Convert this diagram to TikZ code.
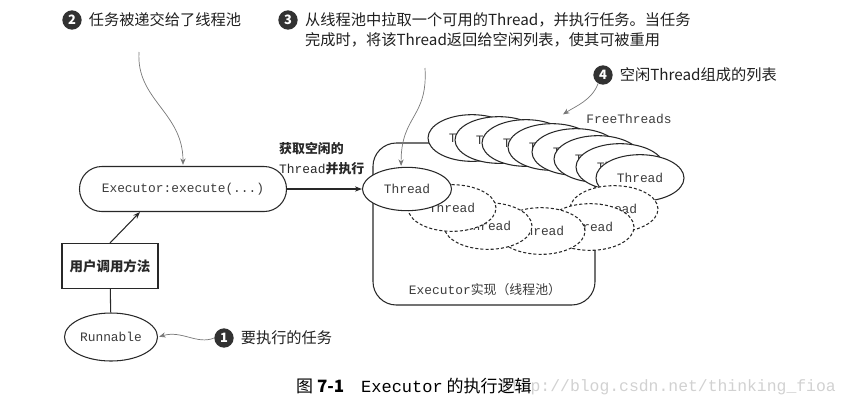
\documentclass[tikz,border=0pt]{standalone}
\usepackage{fontspec}
\setmainfont{Noto Sans CJK SC}
\setmonofont{Liberation Mono}
\usetikzlibrary{positioning,arrows.meta,shapes.geometric,calc}
\definecolor{inkgray}{RGB}{40,40,40}
\definecolor{codegray}{RGB}{60,60,60}
\definecolor{notegray}{RGB}{120,120,120}
\definecolor{markgray}{RGB}{50,50,50}
\tikzset{
  thr/.style={draw=inkgray,fill=white,ellipse,line width=0.9pt,
              minimum width=2.64cm,minimum height=1.4cm,inner sep=0pt,
              font=\fontsize{11}{13}\ttfamily,text=codegray},
  busy/.style={thr,dashed,dash pattern=on 2.6pt off 1.8pt},
  stad/.style={draw=inkgray,fill=white,rounded corners=0.67cm,line width=0.9pt,
               minimum width=6.21cm,minimum height=1.35cm,
               font=\fontsize{11}{13}\ttfamily,text=codegray},
  ubox/.style={draw=inkgray,fill=white,line width=0.9pt,
               minimum width=2.88cm,minimum height=1.35cm,
               font=\fontsize{11.5}{14}\bfseries,text=inkgray},
  pool/.style={draw=inkgray,fill=white,rounded corners=0.7cm,line width=0.9pt,
               minimum width=6.66cm,minimum height=4.86cm},
  code/.style={font=\fontsize{11}{13}\ttfamily,text=codegray,inner sep=0pt},
  lbl/.style={font=\fontsize{11}{15.3}\selectfont,text=inkgray,inner sep=0pt},
  note/.style={font=\fontsize{13}{16}\selectfont,text=black!88,inner sep=0pt,anchor=west},
  num/.style={circle,fill=markgray,text=white,minimum size=0.58cm,inner sep=0pt,
              font=\fontsize{11}{11}\bfseries},
  arr/.style={-{Stealth[length=6pt,width=4.5pt]},line width=0.9pt,inkgray},
  curl/.style={-{Stealth[length=5.5pt,width=4.5pt]},line width=0.6pt,notegray,shorten >=1pt},
}
\begin{document}
\begin{tikzpicture}[x=0.03cm,y=-0.03cm]
  \useasboundingbox (0,0) rectangle (848,410);
  % thread pool
  \node[pool] (pool) at (484,224) {};
  \node[lbl,text=codegray] (poollbl) at (485,290) {{\ttfamily Executor}实现（线程池）};
  % free threads
  \foreach \px/\py [count=\i] in {472/138,499/140,526/143,552/147,576/152,598/159,620/167,640/178}
    \node[thr] (f\i) at (\px,\py) {Thread};
  \node[code] (ftlbl) at (629,119) {FreeThreads};
  % threads at work
  \foreach \px/\py/\k in {614/209/5,590/227/4,541/231/3,488/226/2,452/208/1}
    \node[busy] (d\k) at (\px,\py) {Thread};
  \node[thr,minimum width=2.67cm,minimum height=1.3cm] (cur) at (407,189) {Thread};

  \node[stad] (exec) at (183,189) {Executor:execute(...)};
  \node[ubox] (user) at (110,266) {用户调用方法};
  \node[thr,minimum width=2.79cm,minimum height=1.44cm] (task) at (111,337) {Runnable};

  \draw[arr] (exec) -- (cur);
  \draw[arr] (user.north) -- ($(exec.south)+(-43,0)$);
  \draw[line width=0.9pt,inkgray] (user) -- (task);
  \node[lbl,anchor=west,align=left,font=\fontsize{11}{17}\bfseries] (fetch) at (279,159)
    {获取空闲的\\{\ttfamily\mdseries Thread}并执行};

  % notes
  \node[num] (n1) at (224,338) {1};
  \node[note,right=0.2cm of n1] (t1) {要执行的任务};
  \node[num] (n2) at (72,20) {2};
  \node[note,right=0.2cm of n2] (t2) {任务被递交给了线程池};
  \node[num] (n3) at (288,20) {3};
  \node[note,align=left,font=\fontsize{13}{17.1}\selectfont] (t3) at (305,30)
    {从线程池中拉取一个可用的Thread，并执行任务。当任务\\完成时，将该Thread返回给空闲列表，使其可被重用};
  \node[num] (n4) at (603,75) {4};
  \node[note,right=0.2cm of n4] (t4) {空闲Thread组成的列表};

  \coordinate (c2) at (139,52);
  \coordinate (c3) at (425,68);
  \coordinate (ftend) at (562,115);
  \draw[curl] (c2) .. controls (136,100) and (183,112) .. (exec.north);
  \draw[curl] (c3) .. controls (428,118) and (401,115) .. (cur.105);
  \draw[curl] (n4.240) .. controls (592,100) and (576,106) .. (ftend);
  \draw[curl] (n1.west) .. controls (197,345) and (182,330) .. (task.east);

  % caption
  \node[font=\fontsize{14}{16}\ttfamily,text=black!18,anchor=east,inner sep=0pt] (wm) at (836,387)
    {http://blog.csdn.net/thinking\_fioa};
  \node[font=\fontsize{14.5}{17}\selectfont,anchor=west,inner sep=0pt] (cap) at (296,386)
    {图 \textbf{7-1}\quad{\ttfamily Executor} 的执行逻辑};
\end{tikzpicture}
\end{document}
